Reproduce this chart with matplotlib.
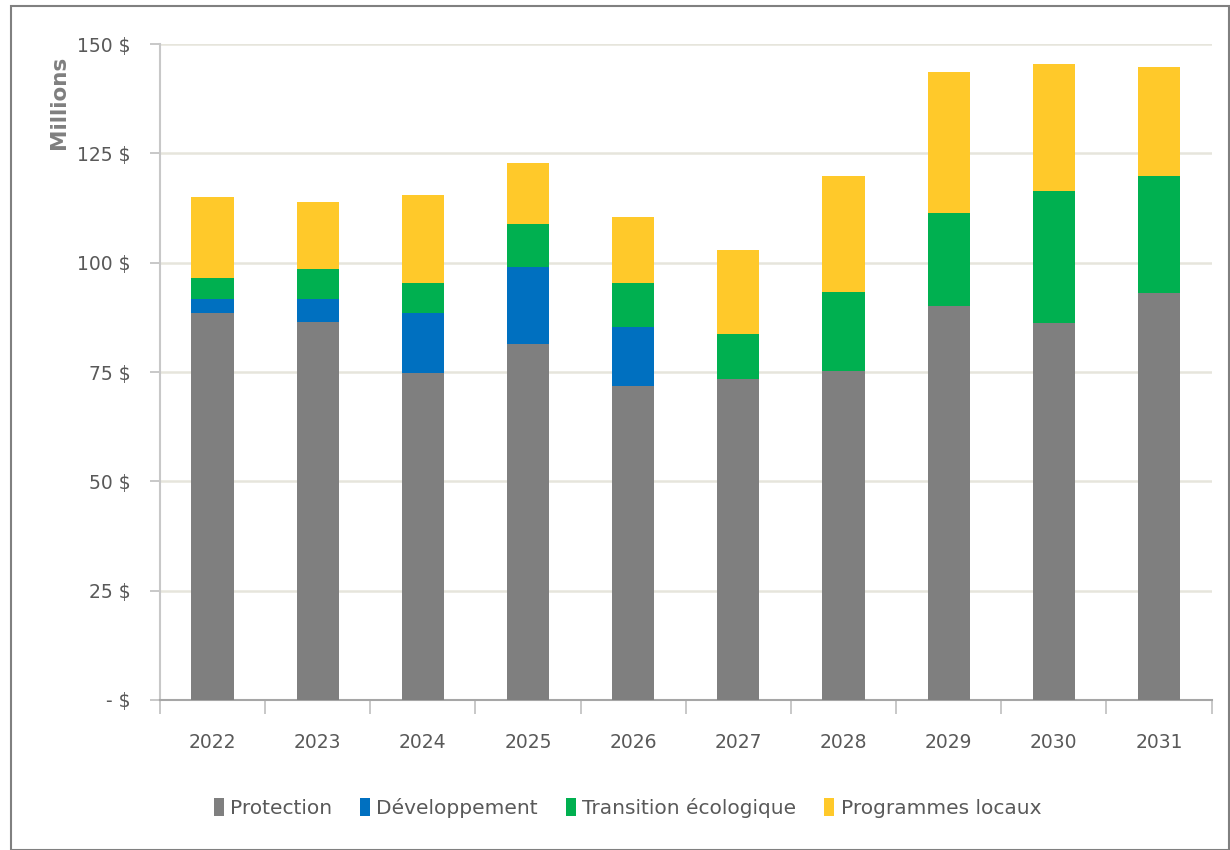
import matplotlib
matplotlib.use("Agg")
import matplotlib.pyplot as plt
from matplotlib import font_manager
import numpy as np

years = ["2022", "2023", "2024", "2025", "2026", "2027", "2028", "2029", "2030", "2031"]
protection = [88.4, 86.4, 74.7, 81.3, 71.9, 73.5, 75.2, 90.2, 86.3, 93.0]
developpement = [3.2, 5.2, 13.8, 17.6, 13.5, 0, 0, 0, 0, 0]
transition = [4.8, 7.0, 6.9, 9.9, 10.0, 10.2, 18.2, 21.2, 30.2, 26.9]
programmes = [18.7, 15.2, 20.1, 13.9, 15.1, 19.3, 26.5, 32.3, 28.9, 24.9]
series_names = ["Protection", "Développement", "Transition écologique", "Programmes locaux"]
colors = ["#7f7f7f", "#0070c0", "#00b050", "#ffc92a"]
yticks = [0, 25, 50, 75, 100, 125, 150]
ytick_labels = ["- $", "25 $", "50 $", "75 $", "100 $", "125 $", "150 $"]

names = {f.name for f in font_manager.fontManager.ttflist}
narrow = "Liberation Sans Narrow" if "Liberation Sans Narrow" in names else "DejaVu Sans"

fig = plt.figure(figsize=(12.3, 8.5), dpi=100)
ax = fig.add_axes([0.130, 0.1765, 0.855, 0.7717])

x = np.arange(len(years))
w = 0.4
bottom = np.zeros(len(years))
for vals, c, n in zip([protection, developpement, transition, programmes], colors, series_names):
    ax.bar(x, vals, w, bottom=bottom, color=c, label=n, zorder=3)
    bottom += np.array(vals)

ax.set_ylim(0, 150)
ax.set_xlim(-0.5, len(years) - 0.5)
ax.set_yticks(yticks)
ax.set_yticklabels(ytick_labels, fontsize=13.5, color="#595959", family=narrow)
ax.yaxis.grid(True, color="#e6e5dc", linewidth=1.8, zorder=0)
ax.set_axisbelow(True)

ax.set_xticks(x)
ax.set_xticklabels(years, fontsize=13.5, color="#595959", family=narrow)
ax.tick_params(axis="x", length=0, pad=24)
ax.set_xticks(np.arange(-0.5, len(years), 1), minor=True)
ax.tick_params(axis="x", which="minor", length=10, color="#bfbfbf", width=1.2)
ax.tick_params(axis="y", length=7, color="#bfbfbf", width=1.2, pad=14)

for s in ["top", "right"]:
    ax.spines[s].set_visible(False)
ax.spines["left"].set_color("#c8c8c8")
ax.spines["left"].set_linewidth(1.5)
ax.spines["bottom"].set_color("#a6a6a6")
ax.spines["bottom"].set_linewidth(1.5)

fig.text(0.048, 0.879, "Millions", rotation=90, ha="center", va="center",
         fontsize=15.5, fontweight="bold", color="#7f7f7f")

leg = fig.legend(loc="center", bbox_to_anchor=(0.51, 0.05), ncol=4, frameon=False,
                 prop={"family": narrow, "size": 14.5}, handlelength=0.5, handleheight=1.0,
                 handletextpad=0.3, columnspacing=1.4)
for t in leg.get_texts():
    t.set_color("#595959")

rect = plt.Rectangle((0.009, 0.0), 0.99, 0.993, transform=fig.transFigure,
                     fill=False, edgecolor="#808080", linewidth=1.5)
fig.patches.append(rect)

fig.savefig("out.png", dpi=100)
